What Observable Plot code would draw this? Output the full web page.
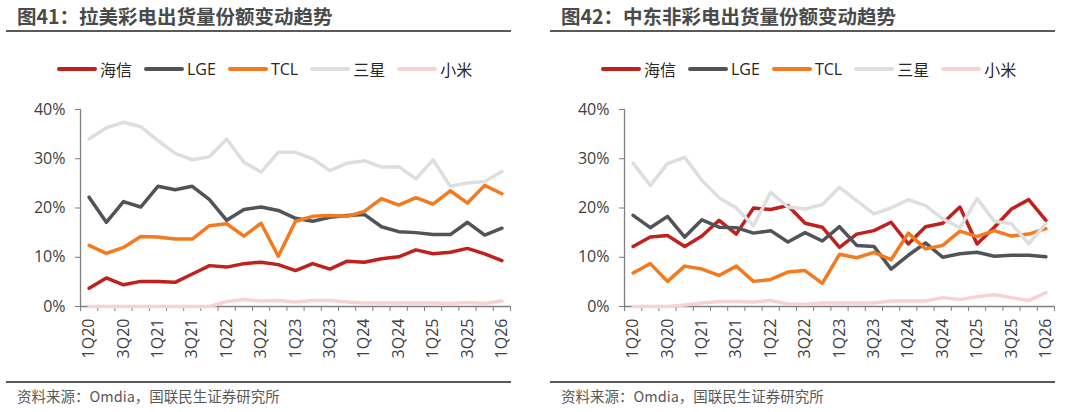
<!DOCTYPE html>
<html><head><meta charset="utf-8">
<script src="https://cdn.jsdelivr.net/npm/d3@7"></script>
<script src="https://cdn.jsdelivr.net/npm/@observablehq/plot@0.6"></script>
<style>
body{margin:0;background:#fff;}
#wrap{position:relative;width:1080px;height:412px;overflow:hidden;background:#fff;font-family:"Noto Sans CJK SC","Open Sans",sans-serif;}
.panel{position:absolute;top:0;width:536px;height:412px;}
.title{position:absolute;left:17px;top:3px;font-size:19.5px;font-weight:bold;color:#4a4a4a;white-space:nowrap;line-height:26px;}
.rule{position:absolute;left:6px;width:505px;height:2px;background:#595959;}
.legend{position:absolute;top:58px;left:57px;height:22px;display:flex;gap:12px;}
.item{display:flex;align-items:center;height:22px;font-size:16px;color:#262626;white-space:nowrap;font-family:"Open Sans","Noto Sans CJK SC",sans-serif;}
.sw{width:40px;height:4px;border-radius:2px;margin-right:3px;}
.plot{position:absolute;left:0;top:90px;}
.src{position:absolute;left:17px;top:386px;font-size:14.5px;color:#595959;white-space:nowrap;line-height:20px;}
</style>
</head>
<body>
<div id="wrap"></div>
<script>
const quarters = ["1Q20","2Q20","3Q20","4Q20","1Q21","2Q21","3Q21","4Q21","1Q22","2Q22","3Q22","4Q22","1Q23","2Q23","3Q23","4Q23","1Q24","2Q24","3Q24","4Q24","1Q25","2Q25","3Q25","4Q25","1Q26"];
const brands = ["海信","LGE","TCL","三星","小米"];
const brandColors = ["#C0211F","#505458","#F47A20","#DEDEDE","#F8D2D2"];
const yTicks = [0, 0.1, 0.2, 0.3, 0.4];

// 拉美 (Latin America), % share
const latamHisense = [3.7,5.8,4.4,5.1,5.1,4.9,6.6,8.3,8.0,8.7,9.0,8.5,7.3,8.7,7.6,9.2,9.0,9.7,10.1,11.5,10.7,11.0,11.8,10.7,9.3];
const latamLGE     = [22.2,17.1,21.3,20.2,24.4,23.7,24.4,21.7,17.5,19.7,20.2,19.5,17.9,17.3,18.1,18.5,18.7,16.2,15.2,15.0,14.6,14.6,17.1,14.5,15.9];
const latamTCL     = [12.4,10.8,12.0,14.2,14.1,13.7,13.7,16.4,16.8,14.3,16.9,10.2,17.3,18.3,18.5,18.3,19.3,21.9,20.6,22.1,20.8,23.5,21.0,24.6,22.9];
const latamSamsung = [34.0,36.3,37.4,36.5,33.7,31.1,29.8,30.4,34.0,29.3,27.3,31.3,31.3,30.0,27.6,29.1,29.6,28.3,28.4,25.9,29.8,24.4,25.1,25.4,27.4];
const latamXiaomi  = [0,0,0,0,0,0,0,0,1.0,1.4,1.1,1.2,0.9,1.2,1.2,0.9,0.7,0.7,0.7,0.7,0.7,0.6,0.8,0.6,1.1];

// 中东非 (Middle East & Africa), % share
const meaHisense = [12.2,14.1,14.4,12.2,14.3,17.5,14.7,20.0,19.7,20.5,16.9,16.1,12.0,14.7,15.4,17.1,12.7,16.2,16.9,20.2,12.7,16.1,19.8,21.7,17.5];
const meaLGE     = [18.5,16.0,18.3,14.1,17.6,16.1,16.0,14.9,15.4,13.1,15.0,13.3,16.2,12.4,12.2,7.6,10.4,12.9,10.0,10.7,11.0,10.2,10.4,10.4,10.1];
const meaTCL     = [6.8,8.7,5.1,8.2,7.6,6.3,8.2,5.1,5.5,7.0,7.3,4.7,10.6,9.9,11.0,9.5,14.9,11.7,12.4,15.3,14.2,15.4,14.3,14.7,15.8];
const meaSamsung = [29.1,24.6,29.0,30.3,25.6,22.1,20.0,16.4,23.2,20.2,19.8,20.7,24.2,21.5,18.8,20.0,21.7,20.5,17.8,16.0,21.9,17.3,16.8,12.7,16.9];
const meaXiaomi  = [0,0,0,0.3,0.7,1.0,1.0,0.9,1.2,0.5,0.4,0.7,0.7,0.7,0.7,1.1,1.1,1.1,1.8,1.4,2.0,2.4,1.8,1.2,2.8];

const titles = ["图41：拉美彩电出货量份额变动趋势", "图42：中东非彩电出货量份额变动趋势"];
const source = "资料来源：Omdia，国联民生证券研究所";

const axisColor = "#7f7f7f";

function makeChart(series) {
  const rows = [];
  brands.forEach((name, k) => series[k].forEach((v, i) => rows.push({name, i, v: v / 100})));
  const n = quarters.length;
  return Plot.plot({
    width: 520, height: 280,
    marginLeft: 80, marginRight: 10, marginTop: 19, marginBottom: 64,
    style: {fontFamily: "'Open Sans','Noto Sans',sans-serif", fontSize: "16px", color: "#404040", background: "transparent", overflow: "visible"},
    x: {type: "linear", domain: [-0.5, n - 0.5], label: null},
    y: {domain: [0, 0.4], label: null},
    color: {domain: brands, range: brandColors},
    marks: [
      Plot.axisY({ticks: yTicks, tickFormat: d => Math.round(d * 100) + "%", tickSize: 5, tickPadding: 10, stroke: axisColor, label: null}),
      Plot.axisX({ticks: d3.range(-0.5, n, 1), tickSize: 5, tickFormat: () => "", stroke: axisColor, label: null}),
      Plot.axisX({ticks: d3.range(0, n, 2), tickSize: 0, tickPadding: 12, tickRotate: -90, tickFormat: i => quarters[i], label: null}),
      Plot.ruleX([-0.5], {stroke: axisColor, strokeWidth: 1.3}),
      Plot.ruleY([0], {stroke: axisColor, strokeWidth: 1.3}),
      Plot.line(rows, {x: "i", y: "v", z: "name", stroke: "name", strokeWidth: 3.5, strokeLinejoin: "round", strokeLinecap: "round"})
    ]
  });
}

const wrap = document.getElementById("wrap");
const panelData = [
  [latamHisense, latamLGE, latamTCL, latamSamsung, latamXiaomi],
  [meaHisense, meaLGE, meaTCL, meaSamsung, meaXiaomi]
];
panelData.forEach((series, p) => {
  const panel = document.createElement("div");
  panel.className = "panel";
  panel.style.left = (p * 544) + "px";
  panel.innerHTML = `<div class="title">${titles[p]}</div>
    <div class="rule" style="top:30px"></div>
    <div class="legend">${brands.map((b, k) => `<div class="item"><div class="sw" style="background:${brandColors[k]}"></div>${b}</div>`).join("")}</div>
    <div class="rule" style="top:381px"></div>
    <div class="src">${source}</div>`;
  const holder = document.createElement("div");
  holder.className = "plot";
  holder.appendChild(makeChart(series));
  panel.appendChild(holder);
  wrap.appendChild(panel);
});
</script>
</body></html>
